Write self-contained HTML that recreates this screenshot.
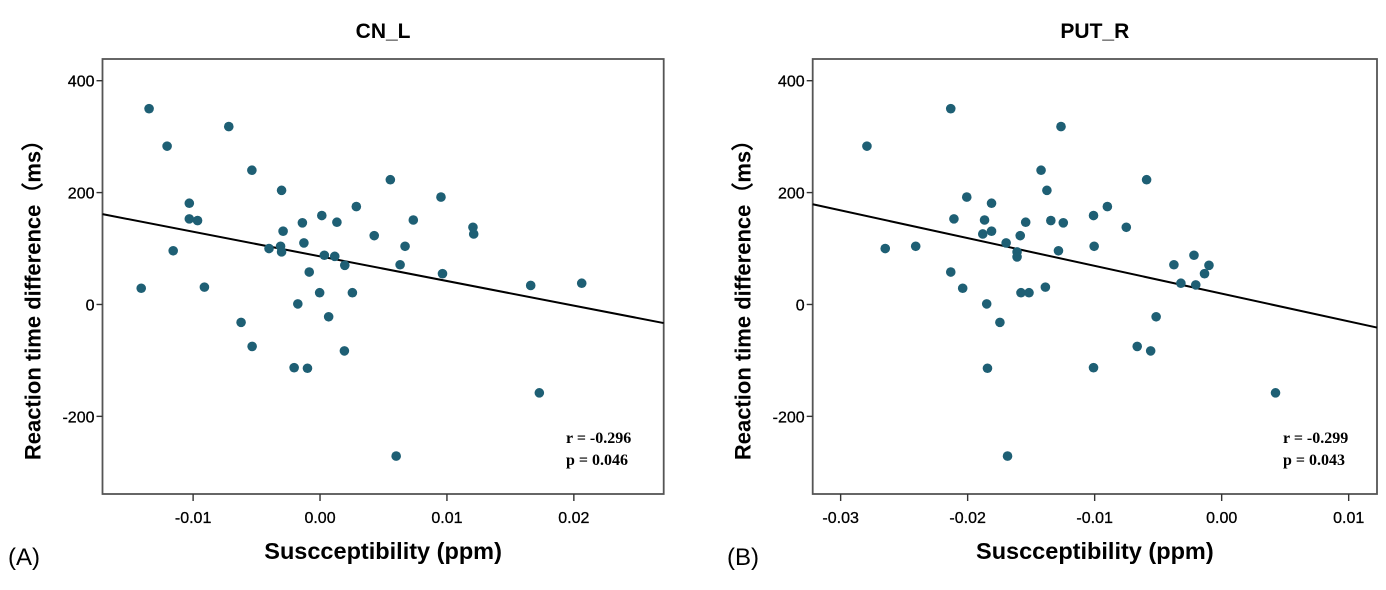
<!DOCTYPE html>
<html><head><meta charset="utf-8"><style>
html,body{margin:0;padding:0;background:#fff;}
svg{display:block;font-family:"Liberation Sans",Arial,sans-serif;}
</style></head><body>
<svg id="fig" width="1386" height="590" viewBox="0 0 1386 590">
<text x="8" y="565" font-size="24">(A)</text>
<text x="727" y="565" font-size="24">(B)</text>
</svg>
<script>
// Panel A data (CN_L)
const aX = [-0.01347,-0.00719,-0.01205,-0.00537,-0.00303,0.00554,0.00953,-0.0103,-0.0103,-0.00965,0.00286,0.00014,-0.00139,0.00133,0.00735,0.01205,0.01211,-0.00291,0.00427,-0.00127,0.0067,-0.00402,-0.00311,-0.00303,0.00034,0.00116,0.00195,0.00631,-0.01157,-0.00085,0.00965,0.0166,0.02062,-0.01409,-0.00911,-0.00003,0.00255,-0.00175,0.00068,-0.00622,-0.00535,0.00192,-0.00204,-0.00099,0.01728,0.006];
const aY = [350,318,283,240,204,223,192,181,153,150,175,159,146,147,151,138,126,131,123,110,104,100,104,94,88,86,70,71,96,58,55,34,38,29,31,21,21,1,-22,-32,-75,-83,-113,-114,-158,-271];
const aFit = [86,-4404];
const aXTicks = [-0.01,0.00,0.01,0.02];
const aXLabels = ["-0.01","0.00","0.01","0.02"];
// Panel B data (PUT_R)
const bX = [-0.02133,-0.01265,-0.02793,-0.01422,-0.00591,-0.01376,-0.02007,-0.01812,-0.009,-0.01009,-0.02108,-0.01867,-0.01345,-0.01543,-0.01247,-0.00751,-0.01881,-0.01812,-0.01586,-0.01697,-0.02649,-0.02409,-0.01004,-0.01611,-0.01611,-0.01285,-0.00218,-0.00376,-0.001,-0.02133,-0.00135,-0.00321,-0.00204,-0.02039,-0.01388,-0.0158,-0.01517,-0.0185,-0.00516,-0.01746,-0.00665,-0.00559,-0.01844,-0.01009,0.00424,-0.01686];
const bY = [350,318,283,240,223,204,192,181,175,159,153,151,150,147,146,138,126,131,123,110,100,104,104,94,85,96,88,71,70,58,55,38,35,29,31,21,21,1,-22,-32,-75,-83,-114,-113,-158,-271];
const bFit = [19.4,-4961];
const bXTicks = [-0.03,-0.02,-0.01,0.00,0.01];
const bXLabels = ["-0.03","-0.02","-0.01","0.00","0.01"];
const yTicks = [400,200,0,-200];
const yLabels = ["400","200","0","-200"];

const NS="http://www.w3.org/2000/svg";
const svg=document.getElementById('fig');
function mk(tag,attrs,parent){const e=document.createElementNS(NS,tag);for(const k in attrs)e.setAttribute(k,attrs[k]);(parent||svg).appendChild(e);return e;}

function panel(p){
  const g=mk('g',{});
  
  
  const sx=v=>p.x0+(v-p.xmin)/(p.xmax-p.xmin)*(p.x1-p.x0);
  const sy=v=>p.y1-(v-p.ymin)/(p.ymax-p.ymin)*(p.y1-p.y0);
  const fr=mk('rect',{x:p.x0,y:p.y0,width:p.x1-p.x0,height:p.y1-p.y0,fill:'none',stroke:'#555',"stroke-width":1.8},g);
  
  
  const tt=mk('text',{x:(p.x0+p.x1)/2,y:38,"text-anchor":"middle","font-size":21,"font-weight":"bold"},g);
  tt.textContent=p.title;
  
  
  yTicks.forEach((v,i)=>{
    const y=sy(v);
    mk('line',{x1:p.x0-6,x2:p.x0,y1:y,y2:y,stroke:'#333',"stroke-width":1.4},g);
    const t=mk('text',{x:p.x0-8,y:y+6,"text-anchor":"end","font-size":16,"stroke":"#000","stroke-width":0.3},g);
    t.textContent=yLabels[i];
    
    
  });
  p.xt.forEach((v,i)=>{
    const x=sx(v);
    mk('line',{x1:x,x2:x,y1:p.y1,y2:p.y1+7,stroke:'#333',"stroke-width":1.4},g);
    const t=mk('text',{x:x,y:523,"text-anchor":"middle","font-size":16,"stroke":"#000","stroke-width":0.3},g);
    t.textContent=p.xl[i];
    
    
  });
  const yt=mk('text',{x:0,y:0,"text-anchor":"middle","font-size":22,"font-weight":"bold",transform:`translate(${p.x0-62},${(p.y0+p.y1)/2+18}) rotate(-90)`},g);
  yt.textContent='Reaction time difference（ms）';
  
  
  const xt=mk('text',{x:(p.x0+p.x1)/2,y:559,"text-anchor":"middle","font-size":23.5,"font-weight":"bold"},g);
  xt.textContent='Suscceptibility (ppm)';
  
  
  const fl=mk('line',{x1:sx(p.xmin),y1:sy(p.fit[0]+p.fit[1]*p.xmin),x2:sx(p.xmax),y2:sy(p.fit[0]+p.fit[1]*p.xmax),stroke:'#000',"stroke-width":2},g);
  
  
  p.px.forEach((v,i)=>{
    const c=mk('circle',{cx:sx(v),cy:sy(p.py[i]),r:4.8,fill:'#1e5f74'},g);
    
    
  });
  const s1=mk('text',{x:p.sx,y:443,"font-family":"'Liberation Serif',serif","font-size":16,"font-weight":"bold"},g);
  s1.textContent=p.r;
  
  
  const s2=mk('text',{x:p.sx,y:465,"font-family":"'Liberation Serif',serif","font-size":16,"font-weight":"bold"},g);
  s2.textContent=p.p;
  
  
}
panel({name:'panel-a-cn-l',title:'CN_L',x0:102.5,x1:663.7,y0:59,y1:494,xmin:-0.01714,xmax:0.02708,ymin:-338.8,ymax:438.8,px:aX,py:aY,fit:aFit,xt:aXTicks,xl:aXLabels,sx:566,r:'r = -0.296',p:'p = 0.046'});
panel({name:'panel-b-put-r',title:'PUT_R',x0:812.7,x1:1377,y0:59,y1:494,xmin:-0.0322,xmax:0.01223,ymin:-338.8,ymax:438.8,px:bX,py:bY,fit:bFit,xt:bXTicks,xl:bXLabels,sx:1283,r:'r = -0.299',p:'p = 0.043'});
</script>
</body></html>
